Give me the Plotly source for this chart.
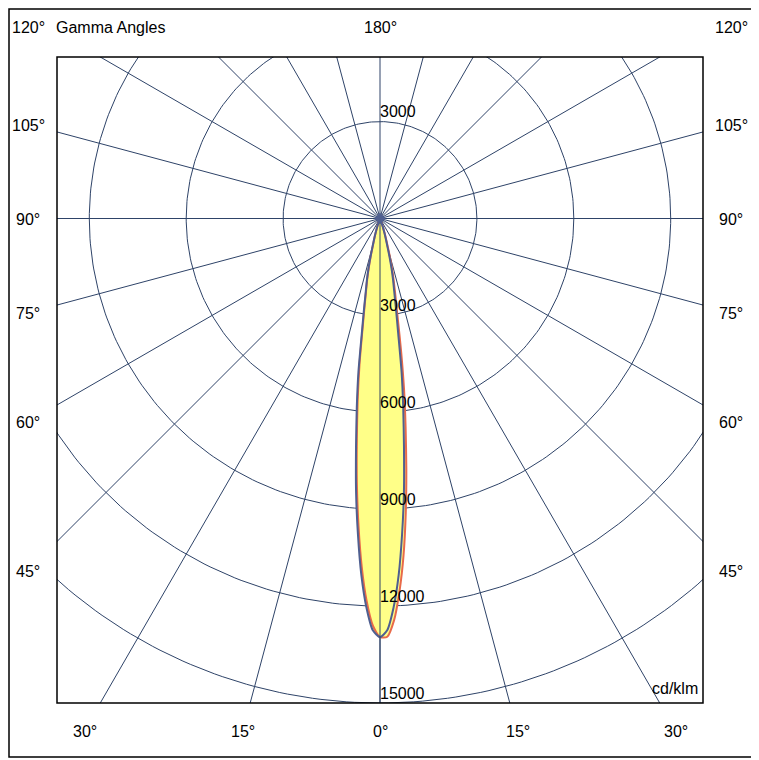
import numpy as np
import plotly.graph_objects as go

# gamma angles (deg) and luminous intensity (cd/klm) per C-plane
gamma = [0, 1, 2, 3, 4, 5, 6, 7, 8, 9, 10, 11, 12, 13, 14, 15, 16, 17, 18, 19, 20,
         22, 25, 30, 35, 40, 60, 90, 120, 150, 180]
c0 = [12960, 12950, 12450, 11550, 10450, 9150, 7800, 6500, 5350, 4200, 3200, 2580,
      2130, 1770, 1400, 1020, 750, 560, 400, 260, 160, 75, 35, 12, 4, 0, 0, 0, 0, 0, 0]
c180 = [12960, 12610, 11850, 10800, 9540, 8220, 6860, 5680, 4560, 3450, 2740, 2240,
        1880, 1510, 1130, 810, 620, 450, 300, 185, 110, 55, 28, 9, 3, 0, 0, 0, 0, 0, 0]
c90 = [12960, 12750, 12050, 11050, 9800, 8500, 7100, 5900, 4800, 3600, 2850, 2310,
       1950, 1590, 1200, 850, 650, 480, 325, 200, 120, 60, 30, 10, 4, 0, 0, 0, 0, 0, 0]
c270 = c90

rings = [3000, 6000, 9000, 12000, 15000]
ring_labels_below = ["3000", "6000", "9000", "12000", "15000"]
ring_labels_above = ["3000"]
side_angles = [105, 90, 75, 60, 45]
bottom_angles = [30, 15, 0, 15, 30]
bottom_sides = [-1, -1, 0, 1, 1]

GRID = "#2E4368"
BLUE = "#4F5F90"
ORANGE = "#E86A4A"
FILL = "#FFFF88"
FONT = "Liberation Sans, Arial, sans-serif"

XR = [-10000, 10000]
YR = [-15000, 5000]

# the page body has an 8px margin, so the figure starts at (8, 8) in the window
OFF = 8


def curve(right, left):
    g = np.radians(gamma)
    r = np.array(right, float)
    l = np.array(left, float)
    x = np.concatenate([r * np.sin(g), -l[::-1] * np.sin(g[::-1])])
    y = np.concatenate([-r * np.cos(g), -l[::-1] * np.cos(g[::-1])])
    return x, y


fig = go.Figure()

# grid circles
t = np.linspace(0, 2 * np.pi, 361)
for r in rings:
    fig.add_trace(go.Scatter(x=r * np.cos(t), y=r * np.sin(t), mode="lines",
                             line=dict(color=GRID, width=1), hoverinfo="skip"))

# radial lines every 15 degrees
for a in range(0, 360, 15):
    ar = np.radians(a)
    fig.add_trace(go.Scatter(x=[0, 30000 * np.sin(ar)], y=[0, -30000 * np.cos(ar)],
                             mode="lines", line=dict(color=GRID, width=1),
                             hoverinfo="skip"))

xo, yo = curve(c0, c180)
xb, yb = curve(c90, c270)

for xs, ys in [(xo, yo), (xb, yb)]:
    fig.add_trace(go.Scatter(x=xs, y=ys, mode="lines", fill="toself",
                             fillcolor=FILL, line=dict(width=0, shape="spline",
                                                       smoothing=0.6),
                             hoverinfo="skip"))
fig.add_trace(go.Scatter(x=xo, y=yo, mode="lines",
                         line=dict(color=ORANGE, width=2, shape="spline", smoothing=0.6)))
fig.add_trace(go.Scatter(x=xb, y=yb, mode="lines",
                         line=dict(color=BLUE, width=2, shape="spline", smoothing=0.6)))

# vertical axis line on top of the fill
fig.add_trace(go.Scatter(x=[0, 0], y=[0, -30000], mode="lines",
                         line=dict(color=GRID, width=1), hoverinfo="skip"))
fig.add_trace(go.Scatter(x=[0], y=[0], mode="markers",
                         marker=dict(color=BLUE, size=9, symbol="diamond"),
                         hoverinfo="skip"))

ann = []
for r, lab in zip(rings, ring_labels_below):
    ann.append(dict(x=0, y=-r, text=lab, showarrow=False, xanchor="left",
                    yanchor="middle", yshift=10, xshift=-2))
for r, lab in zip(rings, ring_labels_above):
    ann.append(dict(x=0, y=r, text=lab, showarrow=False, xanchor="left",
                    yanchor="middle", yshift=10, xshift=-2))

# outer labels, placed in paper coords (page pixels -> paper)
W = 646.0
def px2paper(px, py):
    return (px - 57) / W, (703 - py) / W

cx, cy = 380.5, 219.5
for a in side_angles:
    py = cy + 352 / np.tan(np.radians(a))
    for px in [28, 731]:
        xp, yp = px2paper(px, py)
        ann.append(dict(x=xp, y=yp, xref="paper", yref="paper", text=f"{a}°",
                        showarrow=False, xanchor="center", yanchor="middle"))
for a, s in zip(bottom_angles, bottom_sides):
    px = cx + s * 512 * np.tan(np.radians(a))
    xp, yp = px2paper(px, 731)
    ann.append(dict(x=xp, y=yp, xref="paper", yref="paper", text=f"{a}°",
                    showarrow=False, xanchor="center", yanchor="middle"))
for px, txt, anchor in [(28, "120°", "center"), (731, "120°", "center"),
                        (380, "180°", "center"), (54, "Gamma Angles", "left")]:
    xp, yp = px2paper(px, 28)
    ann.append(dict(x=xp, y=yp, xref="paper", yref="paper", text=txt,
                    showarrow=False, xanchor=anchor, yanchor="middle"))
xp, yp = px2paper(700, 688)
ann.append(dict(x=xp, y=yp, xref="paper", yref="paper", text="cd/klm",
                showarrow=False, xanchor="right", yanchor="middle"))

shapes = [
    dict(type="rect", xref="x domain", yref="y domain", x0=0, x1=1, y0=0, y1=1,
         line=dict(color="black", width=1.5)),
    dict(type="rect", xref="paper", yref="paper",
         x0=(OFF + 1 - 57) / W, x1=(756.5 - 57) / W,
         y0=(703 - 757) / W, y1=(703 - OFF - 1) / W,
         line=dict(color="black", width=1.5)),
]

fig.update_layout(
    width=759 - OFF, height=760 - OFF,
    margin=dict(l=57 - OFF, r=56, t=57 - OFF, b=57),
    paper_bgcolor="white", plot_bgcolor="white",
    showlegend=False,
    font=dict(family=FONT, size=16, color="black"),
    xaxis=dict(range=XR, showgrid=False, zeroline=False, showticklabels=False,
               fixedrange=True),
    yaxis=dict(range=YR, showgrid=False, zeroline=False, showticklabels=False,
               fixedrange=True),
    annotations=ann,
    shapes=shapes,
)

fig.write_html("out.html")
